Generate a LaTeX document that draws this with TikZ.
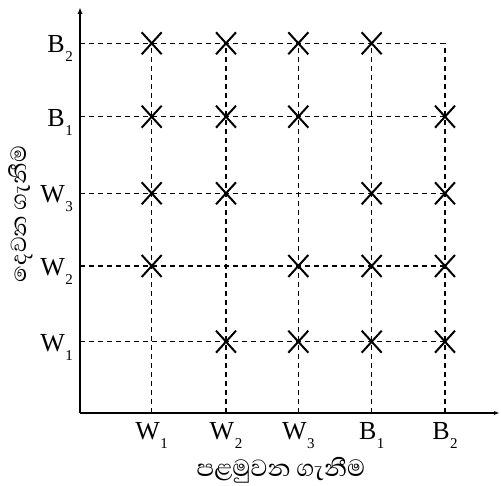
\documentclass[tikz,border=0pt]{standalone}
\usepackage{fontspec}
\setmainfont{Liberation Serif}
\newfontfamily\sinhalafont[Script=Sinhala]{Abhaya Libre}
\usetikzlibrary{arrows.meta}

% letter with a lowered index, as on the axes
\newcommand{\drawlab}[2]{#1\kern0.5pt\raisebox{-9pt}{\fontsize{15}{15}\selectfont #2}}

\begin{document}
\begin{tikzpicture}[x=1pt,y=1pt,
  grid line/.style={black,dash pattern=on 5pt off 4pt,line width=1.3pt},
  axis line/.style={black,line width=1.5pt},
  cross/.style={black,line width=2pt},
  tick label/.style={font=\fontsize{26}{26}\selectfont,inner sep=0pt,text=black}]
\useasboundingbox (0,0) rectangle (501,486);

% columns (first draw) and rows (second draw)
\foreach \x [count=\i] in {151.7,226,298.3,371.7,445}
  \coordinate (col\i) at (\x,73);
\foreach \y [count=\j] in {144.3,220,292.7,369.3,442.7}
  \coordinate (row\j) at (80,\y);

% dashed grid
\foreach \j in {1,...,5}
  \draw[grid line] (row\j) -- (col5 |- row\j);
\foreach \i in {1,...,5}
  \draw[grid line] (col\i) -- (col\i |- row5);

% axes
\coordinate (O) at (80,73);
\coordinate (xend) at (500,73);
\coordinate (yend) at (80,479);
\draw[axis line,-{Latex[length=7pt,width=5pt]}] (O) -- (yend);
\draw[axis line,-{Latex[length=6pt,width=4pt]}] (O) -- (xend);

% outcomes, none where both draws give the same ball
\foreach \i in {1,...,5}
  \foreach \j in {1,...,5}{
    \ifnum\i=\j\else
      \draw[cross] (col\i |- row\j) +(-10,-11) -- +(10,11) +(-10,11) -- +(10,-11);
    \fi}

% tick labels
\foreach \lt/\ls [count=\i] in {W/1,W/2,W/3,B/1,B/2}{
  \node[tick label,anchor=base] (xl\i) at ([yshift=-27pt]col\i) {\drawlab{\lt}{\ls}};
  \node[tick label,anchor=base east] (yl\i) at ([xshift=-7pt,yshift=-9.7pt]row\i) {\drawlab{\lt}{\ls}};
}

% axis titles
\node[font=\sinhalafont\fontsize{30}{30}\selectfont,text=black,inner sep=0pt,anchor=base] (xtitle) at (281,9) {පළමුවන ගැනීම};
\node[font=\sinhalafont\fontsize{28}{28}\selectfont,text=black,inner sep=0pt,rotate=90] (ytitle) at (21,272) {දෙවන ගැනීම};

\end{tikzpicture}
\end{document}
